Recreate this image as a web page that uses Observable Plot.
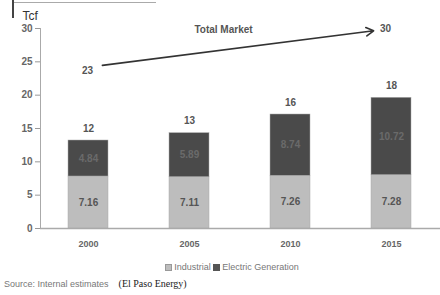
<!DOCTYPE html>
<html><head><meta charset="utf-8">
<script src="https://cdn.jsdelivr.net/npm/d3@7"></script>
<script src="https://cdn.jsdelivr.net/npm/@observablehq/plot@0.6"></script>
<style>
body{margin:0;background:#fff;font-family:"Liberation Sans",Arial,sans-serif;width:440px;height:295px;overflow:hidden;position:relative}
#deco1{position:absolute;left:12px;top:0;width:2px;height:18px;background:#444}
#deco2{position:absolute;left:14px;top:2px;width:142px;height:1px;background:#aaa}
#legend{position:absolute;left:0;width:440px;top:262px;text-align:center;font-size:9px;color:#777;padding-left:24px;box-sizing:border-box}
#legend span.sw{display:inline-block;width:7px;height:7px;margin:0 2px 0 0;vertical-align:-1px}
#source{position:absolute;left:4px;top:278px;font-size:9px;color:#777}
#source .org{font-family:"Liberation Serif","Times New Roman",serif;color:#222;margin-left:10px;font-size:10px}
</style></head>
<body>
<div id="deco1"></div><div id="deco2"></div>
<div id="chart"></div>
<div id="legend"><span class="sw" style="background:#bdbdbd;border:1px solid #999;box-sizing:border-box"></span>Industrial <span class="sw" style="background:#555"></span>Electric Generation</div>
<div id="source">Source: Internal estimates<span class="org">(El Paso Energy)</span></div>
<script>
const years = ["2000", "2005", "2010", "2015"];
const industrial = [7.8, 7.7, 7.9, 8.0];
const electric = [5.4, 6.6, 9.2, 11.6];
const industrialLabels = ["7.16", "7.11", "7.26", "7.28"];
const electricLabels = ["4.84", "5.89", "8.74", "10.72"];
const totalLabels = ["12", "13", "16", "18"];
const yTicks = [0, 5, 10, 15, 20, 25, 30];
const marketYears = ["2000", "2015"];
const marketValues = [24.2, 30.0];
const marketLabels = ["23", "30"];
const marketTitle = "Total Market";
const seriesNames = ["Industrial", "Electric Generation"];

const rows = [];
years.forEach((y, i) => {
  rows.push({year: y, series: seriesNames[0], value: industrial[i], label: industrialLabels[i]});
  rows.push({year: y, series: seriesNames[1], value: electric[i], label: electricLabels[i]});
});
const totals = years.map((y, i) => ({year: y, total: industrial[i] + electric[i], label: totalLabels[i]}));
const market = [{x1: marketYears[0], y1: marketValues[0], x2: marketYears[1], y2: marketValues[1]}];

const chart = Plot.plot({
  width: 440, height: 255,
  marginLeft: 40, marginRight: 0, marginTop: 28, marginBottom: 27,
  style: {fontFamily: "Liberation Sans, Arial, sans-serif", fontSize: "10px", color: "#555", background: "#fff"},
  x: {domain: years, paddingInner: 0.6, paddingOuter: 0.27, label: null},
  y: {domain: [0, 30], ticks: yTicks, label: null},
  color: {domain: seriesNames, range: ["#bdbdbd", "#4a4a4a"]},
  marks: [
    Plot.axisY({ticks: yTicks, tickSize: 5, tickPadding: 3, stroke: "#999", fill: "#666", fontWeight: "bold", label: null}),
    Plot.axisX({tickSize: 0, tickPadding: 12, fill: "#666", fontSize: 9, fontWeight: "bold", label: null}),
    Plot.frame({anchor: "left", stroke: "#aaa"}),
    Plot.barY(rows, {x: "year", y: "value", fill: "series", order: seriesNames, stroke: "#aaa", strokeWidth: 0.5}),
    Plot.ruleY([0], {stroke: "#aaa", strokeWidth: 1.5}),
    Plot.text(rows, Plot.stackY({x: "year", y: "value", z: "series", order: seriesNames, text: "label",
      fill: d => d.series === seriesNames[0] ? "#555" : "#6a6a6a", fontSize: 10, fontWeight: "bold"})),
    Plot.text(totals, {x: "year", y: "total", text: "label", dy: -12, fill: "#555", fontSize: 10, fontWeight: "bold"}),
    Plot.arrow(market, {x1: "x1", y1: "y1", x2: "x2", y2: "y2", stroke: "#333", strokeWidth: 1.6, headLength: 8, insetStart: 14, insetEnd: 18}),
    Plot.text([0], {x: () => marketYears[0], y: () => marketValues[0], text: () => marketLabels[0], dy: 4, dx: -1, fill: "#555", fontSize: 10, fontWeight: "bold"}),
    Plot.text([0], {x: () => marketYears[1], y: () => marketValues[1], text: () => marketLabels[1], dx: -6, dy: 0, fill: "#555", fontSize: 10, fontWeight: "bold"}),
    Plot.text([0], {x: () => years[1], y: () => marketValues[1], text: () => marketTitle, dx: 34, dy: 1, fill: "#555", fontSize: 10, fontWeight: "bold"}),
    Plot.text([0], {frameAnchor: "top-left", text: () => "Tcf", dx: -18, dy: -17, fill: "#333", fontSize: 12, textAnchor: "start"})
  ]
});
document.getElementById("chart").appendChild(chart);
</script>
</body></html>
